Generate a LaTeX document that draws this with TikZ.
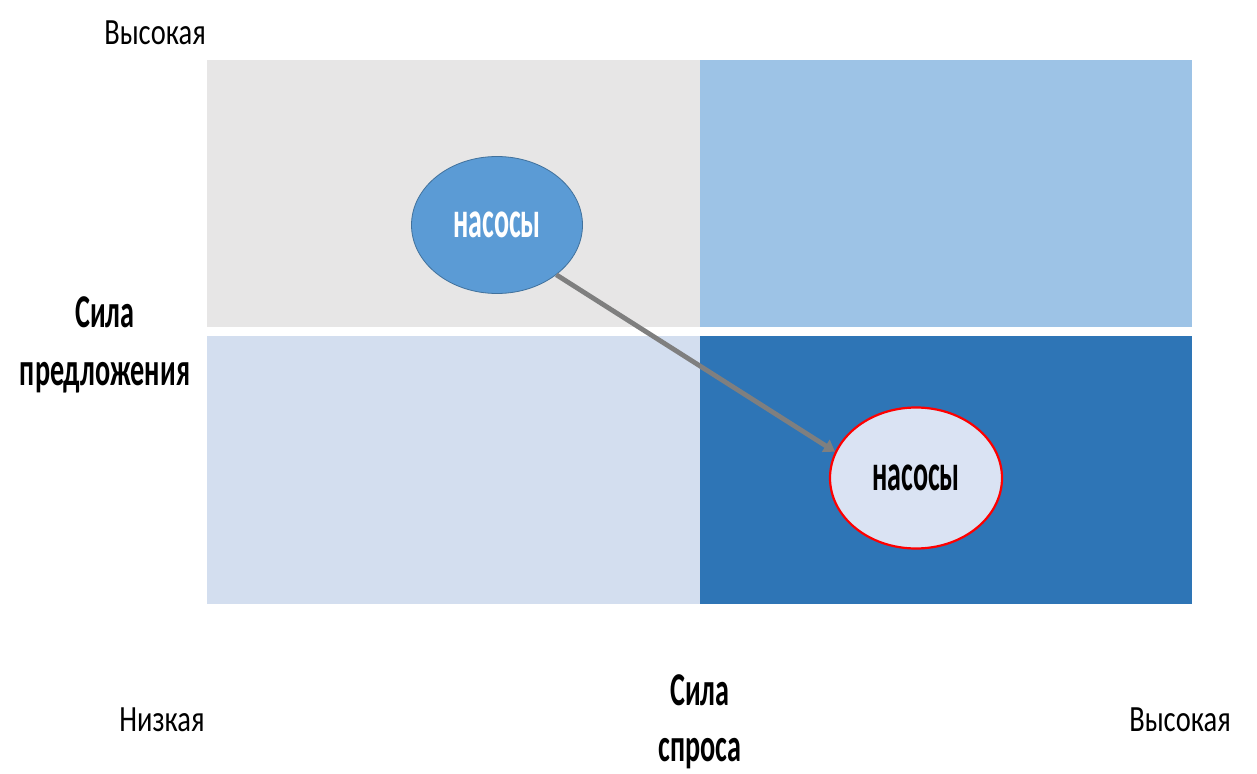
\documentclass[tikz,border=0pt]{standalone}
\usepackage{fontspec}
\setmainfont{Carlito}[FakeStretch=0.6]
\newfontfamily\axfont{Carlito}[FakeStretch=0.77]
\newfontfamily\ellbfont{Carlito}[FakeStretch=0.54]
\usetikzlibrary{arrows.meta,shapes.geometric}
\definecolor{qtl}{HTML}{E7E6E6}
\definecolor{qtr}{HTML}{9DC3E6}
\definecolor{qbl}{HTML}{D3DEEF}
\definecolor{qbr}{HTML}{2E75B6}
\definecolor{ellA}{HTML}{5B9BD5}
\definecolor{ellAb}{HTML}{41719C}
\definecolor{ellB}{HTML}{DAE3F3}
\definecolor{arrg}{HTML}{7F7F7F}
\tikzset{
  axlabel/.style={font=\axfont\fontsize{37}{42}\selectfont, inner sep=0pt},
  titlelabel/.style={font=\fontsize{47}{56}\selectfont\bfseries, inner sep=0pt, align=center},
  ellnode/.style={ellipse, minimum width=171pt, minimum height=137pt, inner sep=0pt, font=\ellbfont\fontsize{52}{60}\selectfont\bfseries},
  conn/.style={draw=arrg, line width=4.8pt, -{Triangle[length=11pt,width=14pt]}}
}
\begin{document}
\begin{tikzpicture}[x=1pt,y=-1pt]
\useasboundingbox (0,0) rectangle (1257,773);
\fill[white] (0,0) rectangle (1257,773);
% quadrants
\fill[qtl] (207,60) rectangle (699.6,327);
\fill[qtr] (700,60) rectangle (1192,327);
\fill[qbl] (207,336) rectangle (699.6,604);
\fill[qbr] (700,336) rectangle (1192,604);
% ellipses
\node[ellnode, fill=ellA, draw=ellAb, line width=0.8pt, text=white] (e1) at (497,225) {насосы};
\node[ellnode, fill=ellB, draw=red, line width=2.2pt, minimum width=172pt, minimum height=141pt, text=black] (e2) at (916,478) {насосы};
\draw[conn] (e1.-40) -- (e2.162);
% labels
\node[axlabel] (hiY) at (155,33) {Высокая};
\node[titlelabel] (sup1) at (105,312) {Сила};
\node[titlelabel] (sup2) at (105,378) {предложения};
\node[axlabel] (lowX) at (162,720) {Низкая};
\node[titlelabel] (dem1) at (700,690) {Сила};
\node[titlelabel] (dem2) at (700,754) {спроса};
\node[axlabel] (hiX) at (1180,720) {Высокая};
\end{tikzpicture}
\end{document}
